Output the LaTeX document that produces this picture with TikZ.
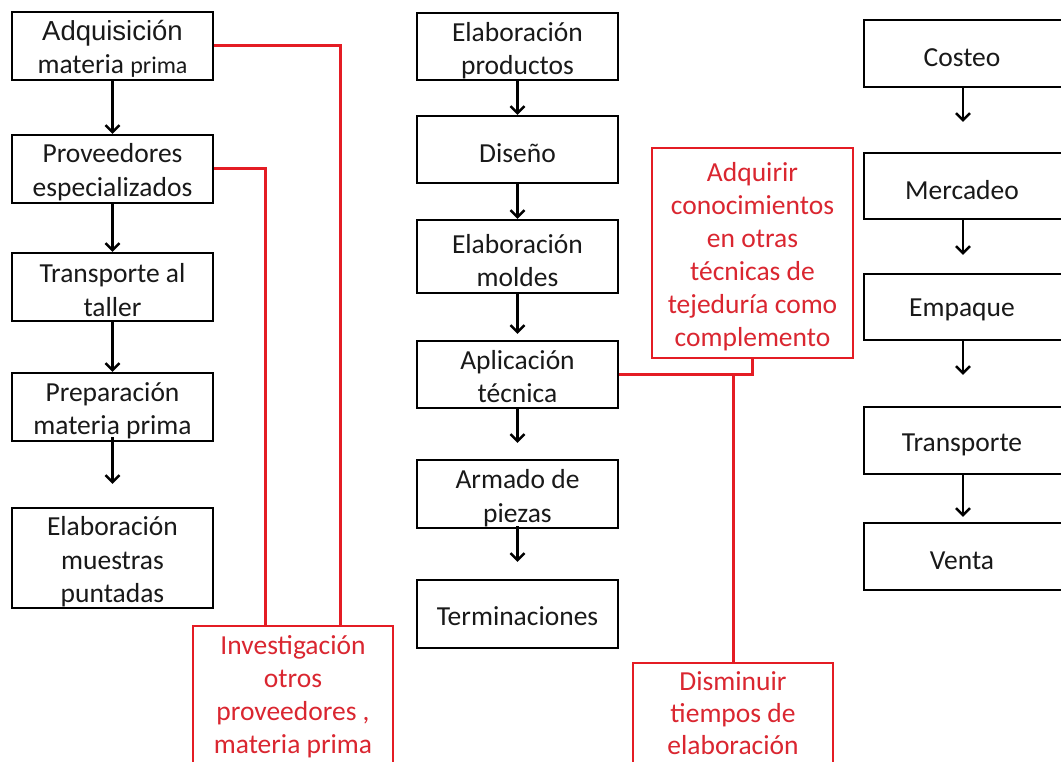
\documentclass[tikz,border=0pt]{standalone}
\usepackage{fontspec}
\setmainfont{Carlito}
\newfontfamily\arialf{Liberation Sans}
\usetikzlibrary{arrows.meta}
\definecolor{rline}{RGB}{228,28,36}
\definecolor{rtext}{RGB}{218,38,48}
\definecolor{btext}{RGB}{25,25,25}
\begin{document}
\begin{tikzpicture}[x=1pt,y=-1pt,
  box/.style={draw=black,line width=2.4pt,inner sep=0pt},
  rbox/.style={draw=rline,line width=2.6pt,inner sep=0pt},
  btx/.style={inner sep=0pt,align=center,font=\fontsize{27.5}{33.5}\selectfont,text=btext},
  rtx/.style={inner sep=0pt,align=center,font=\fontsize{27.5}{33}\selectfont,text=rtext},
  arr/.style={draw=black,line width=2.4pt,-{Straight Barb[length=7pt,width=14pt,line width=2.4pt]}},
  rl/.style={draw=rline,line width=3pt}]
\useasboundingbox (0,0) rectangle (1061,762);
\clip (0,0) rectangle (1061,762);
\fill[white] (0,0) rectangle (1061,762);
% column 1
\node[box,minimum width=201,minimum height=68] (adq) at (112.5,46) {};
\node[btx] (adqt) at ([yshift=-3]adq.center)
  {\arialf\fontsize{27.5}{31}\selectfont Adquisición\\materia {\fontsize{24}{31}\selectfont prima}};
\node[box,minimum width=201,minimum height=68] (prov) at (112.5,169) {};
\node[btx] (provt) at ([yshift=-3]prov.center) {Proveedores\\especializados};
\node[box,minimum width=201,minimum height=68] (tra) at (112.5,287) {};
\node[btx] (trat) at ([yshift=-3]tra.center) {Transporte al\\taller};
\node[box,minimum width=201,minimum height=68] (prep) at (112.5,407) {};
\node[btx] (prept) at ([yshift=-4]prep.center) {Preparación\\materia prima};
\node[box,minimum width=201,minimum height=100] (mue) at (112.5,558) {};
\node[btx] (muet) at ([yshift=-4]mue.center) {Elaboración\\muestras\\puntadas};
% column 2
\node[box,minimum width=201,minimum height=67] (prod) at (517.5,46.5) {};
\node[btx] (prodt) at ([yshift=-4]prod.center) {Elaboración\\productos};
\node[box,minimum width=201,minimum height=67] (dis) at (517.5,149.5) {};
\node[btx] (dist) at ([yshift=-4]dis.center) {Diseño};
\node[box,minimum width=201,minimum height=73] (mol) at (517.5,256.5) {};
\node[btx] (molt) at ([yshift=-4]mol.center) {Elaboración\\moldes};
\node[box,minimum width=201,minimum height=67] (apl) at (517.5,374.5) {};
\node[btx] (aplt) at ([yshift=-2]apl.center) {Aplicación\\técnica};
\node[box,minimum width=201,minimum height=68] (arm) at (517.5,494) {};
\node[btx] (armt) at ([yshift=-4]arm.center) {Armado de\\piezas};
\node[box,minimum width=201,minimum height=68] (ter) at (517.5,614) {};
\node[btx] (tert) at ([yshift=-2]ter.center) {Terminaciones};
% column 3
\node[box,minimum width=202,minimum height=67] (cos) at (965,53.5) {};
\node[btx] (cost) at ([xshift=-3,yshift=-4]cos.center) {Costeo};
\node[box,minimum width=202,minimum height=66] (mer) at (965,186) {};
\node[btx] (mert) at ([xshift=-3,yshift=-4]mer.center) {Mercadeo};
\node[box,minimum width=202,minimum height=66] (emp) at (965,307) {};
\node[btx] (empt) at ([xshift=-3,yshift=-3]emp.center) {Empaque};
\node[box,minimum width=202,minimum height=67] (trn) at (965,440.5) {};
\node[btx] (trnt) at ([xshift=-3,yshift=-4]trn.center) {Transporte};
\node[box,minimum width=202,minimum height=67] (ven) at (965,556.5) {};
\node[btx] (vent) at ([xshift=-3,yshift=-4]ven.center) {Venta};
% red boxes
\node[rbox,minimum width=201,minimum height=210] (adc) at (752.5,253) {};
\node[rtx] (adct) at ([yshift=-4]adc.center)
  {Adquirir\\conocimientos\\en otras\\técnicas de\\tejeduría como\\complemento};
\node[rbox,minimum width=200,minimum height=144] (inv) at (293,698) {};
\node[rtx] (invt) at ([yshift=1]inv.center)
  {Investigación\\otros\\proveedores ,\\materia prima};
\node[rbox,minimum width=200,minimum height=111] (dsm) at (733,718.5) {};
\node[rtx,font=\fontsize{27.5}{32}\selectfont] (dsmt) at ([yshift=5]dsm.center)
  {Disminuir\\tiempos de\\elaboración};
% arrows column 1
\draw[arr] (adq.south) -- (prov.north);
\draw[arr] (prov.south) -- (tra.north);
\draw[arr] (tra.south) -- (prep.north);
\draw[arr] ([yshift=5]prep.south) -- ([yshift=23]mue.north);
% arrows column 2
\draw[arr] (prod.south) -- (dis.north);
\draw[arr] (dis.south) -- (mol.north);
\draw[arr] (mol.south) -- ([yshift=6]apl.north);
\draw[arr] (apl.south) -- ([yshift=16]arm.north);
\draw[arr] ([yshift=3]arm.south) -- ([yshift=17]ter.north);
% arrows column 3
\draw[arr] ([xshift=-2]cos.south) -- ([xshift=-2,yshift=30]mer.north);
\draw[arr] ([xshift=-2]mer.south) -- ([xshift=-2,yshift=18]emp.north);
\draw[arr] ([xshift=-2]emp.south) -- ([xshift=-2,yshift=31]trn.north);
\draw[arr] ([xshift=-2]trn.south) -- ([xshift=-2,yshift=5]ven.north);
% red connectors
\draw[rl] (adq.east) -| ([xshift=47]inv.north);
\draw[rl] (prov.east) -| ([xshift=-28]inv.north);
\draw[rl] (apl.east) -| (adc.south);
\draw[rl] (dsm.north) |- (apl.east);
\end{tikzpicture}
\end{document}
